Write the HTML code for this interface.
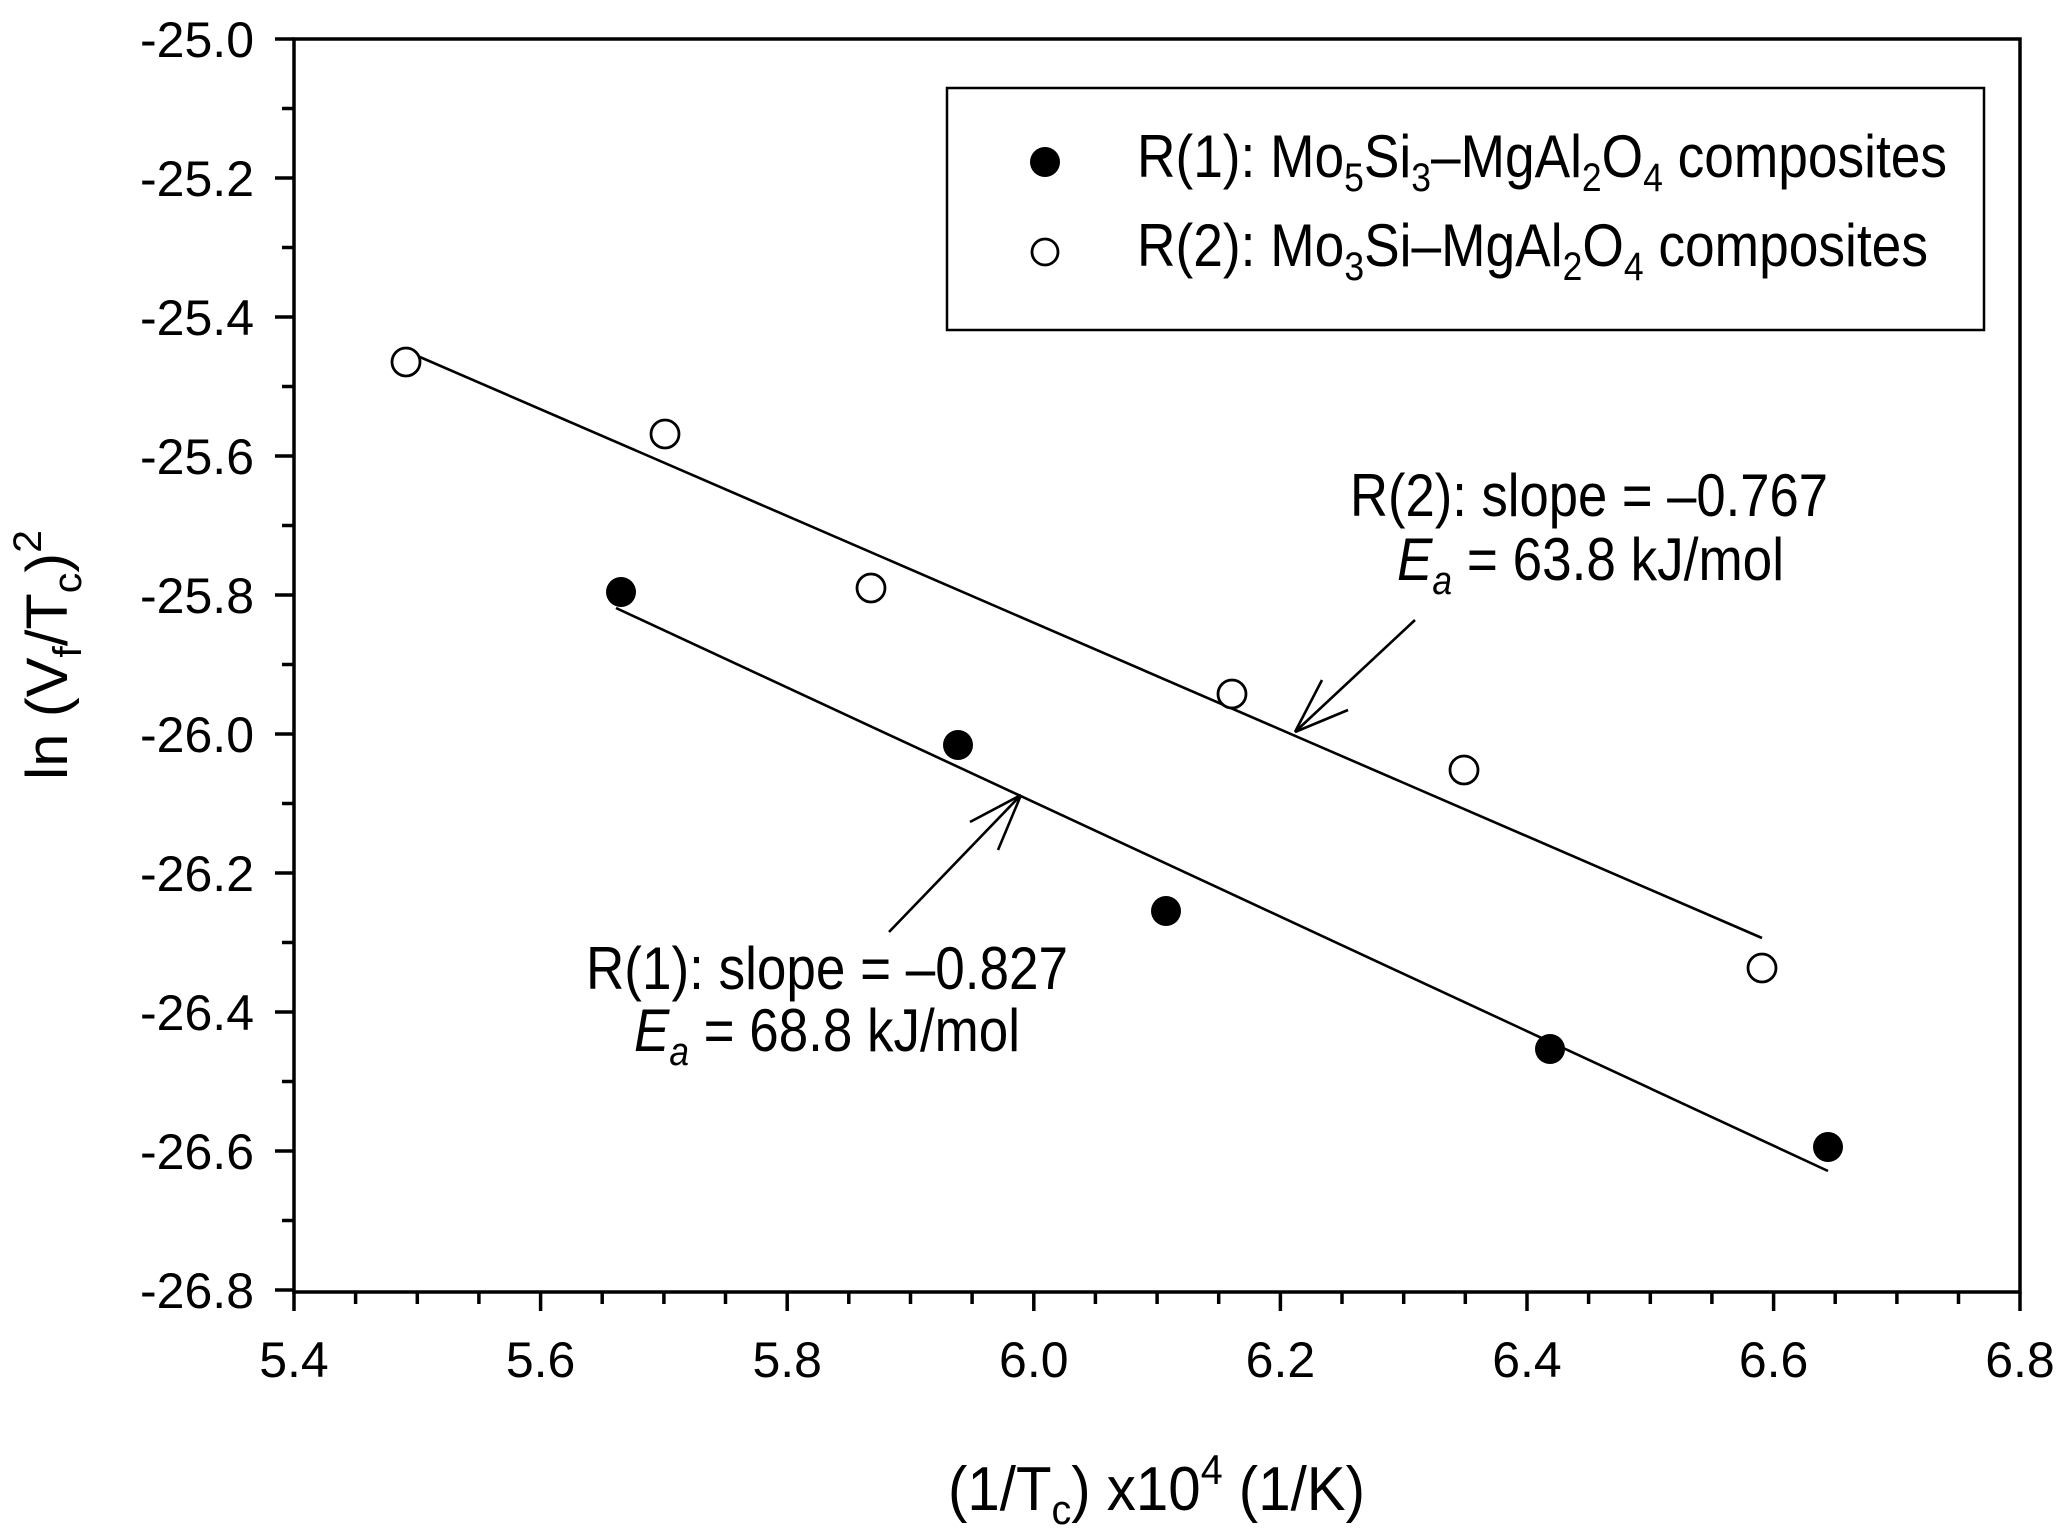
<!DOCTYPE html>
<html><head><meta charset="utf-8"><style>html,body{margin:0;padding:0;background:#fff}svg{display:block}</style></head>
<body>
<svg width="2068" height="1528" viewBox="0 0 2068 1528" xmlns="http://www.w3.org/2000/svg" font-family="Liberation Sans, Arial, sans-serif" fill="#000">
<rect width="2068" height="1528" fill="#fff"/>
<rect x="294" y="39" width="1726" height="1253" fill="none" stroke="#000" stroke-width="3.5"/>
<g stroke="#000" stroke-width="3.5">
<line x1="275" y1="39" x2="294" y2="39"/><line x1="282" y1="108.5" x2="294" y2="108.5"/>
<line x1="275" y1="178" x2="294" y2="178"/><line x1="282" y1="247.5" x2="294" y2="247.5"/>
<line x1="275" y1="317" x2="294" y2="317"/><line x1="282" y1="386.5" x2="294" y2="386.5"/>
<line x1="275" y1="456" x2="294" y2="456"/><line x1="282" y1="525.5" x2="294" y2="525.5"/>
<line x1="275" y1="595" x2="294" y2="595"/><line x1="282" y1="664.5" x2="294" y2="664.5"/>
<line x1="275" y1="734" x2="294" y2="734"/><line x1="282" y1="803.5" x2="294" y2="803.5"/>
<line x1="275" y1="873" x2="294" y2="873"/><line x1="282" y1="942.5" x2="294" y2="942.5"/>
<line x1="275" y1="1012" x2="294" y2="1012"/><line x1="282" y1="1081.5" x2="294" y2="1081.5"/>
<line x1="275" y1="1151" x2="294" y2="1151"/><line x1="282" y1="1220.5" x2="294" y2="1220.5"/>
<line x1="275" y1="1290" x2="294" y2="1290"/>
</g>
<g font-size="50" text-anchor="end">
<text x="254" y="57">-25.0</text><text x="254" y="196">-25.2</text><text x="254" y="335">-25.4</text>
<text x="254" y="474">-25.6</text><text x="254" y="613">-25.8</text><text x="254" y="752">-26.0</text>
<text x="254" y="891">-26.2</text><text x="254" y="1030">-26.4</text><text x="254" y="1169">-26.6</text>
<text x="254" y="1308">-26.8</text>
</g>
<g font-size="50" text-anchor="middle">
<text x="294" y="1377">5.4</text><text x="540.6" y="1377">5.6</text><text x="787.2" y="1377">5.8</text>
<text x="1033.8" y="1377">6.0</text><text x="1280.4" y="1377">6.2</text><text x="1527" y="1377">6.4</text>
<text x="1773.6" y="1377">6.6</text><text x="2020" y="1377">6.8</text>
</g>
<text x="948" y="1510" font-size="62" textLength="417" lengthAdjust="spacingAndGlyphs">(1/T<tspan font-size="42" dy="14">c</tspan><tspan dy="-14">) x10</tspan><tspan font-size="42" dy="-26">4</tspan><tspan dy="26"> (1/K)</tspan></text>
<text transform="translate(67,780) rotate(-90)" font-size="58" textLength="250" lengthAdjust="spacingAndGlyphs">ln (V<tspan font-size="40" dy="14">f</tspan><tspan dy="-14">/T</tspan><tspan font-size="40" dy="14">c</tspan><tspan dy="-14">)</tspan><tspan font-size="40" dy="-26">2</tspan></text>
<g stroke="#000" stroke-width="2.6">
<line x1="406" y1="351" x2="1762" y2="938"/>
<line x1="616" y1="608" x2="1828" y2="1171"/>
<line x1="1415" y1="620" x2="1295" y2="732"/>
<line x1="1295" y1="732" x2="1322" y2="680"/>
<line x1="1295" y1="732" x2="1348" y2="710"/>
<line x1="889" y1="932" x2="1021" y2="795"/>
<line x1="1021" y1="795" x2="970" y2="822"/>
<line x1="1021" y1="795" x2="998" y2="850"/>
</g>
<g fill="#fff" stroke="#000" stroke-width="2.8">
<circle cx="406" cy="362" r="14"/><circle cx="665" cy="434" r="14"/><circle cx="871" cy="588" r="14"/>
<circle cx="1232" cy="694" r="14"/><circle cx="1464" cy="770" r="14"/><circle cx="1762" cy="968" r="14"/>
</g>
<g fill="#000">
<circle cx="621" cy="592" r="15"/><circle cx="958" cy="745" r="15"/><circle cx="1166" cy="911" r="15"/>
<circle cx="1550" cy="1049" r="15"/><circle cx="1828" cy="1147" r="15"/>
</g>
<text x="1350" y="516" font-size="60" textLength="478" lengthAdjust="spacingAndGlyphs">R(2): slope = –0.767</text>
<text x="1397" y="580" font-size="60" textLength="387" lengthAdjust="spacingAndGlyphs"><tspan font-style="italic">E</tspan><tspan font-style="italic" font-size="40" dy="14">a</tspan><tspan dy="-14"> = 63.8 kJ/mol</tspan></text>
<text x="586" y="989" font-size="60" textLength="482" lengthAdjust="spacingAndGlyphs">R(1): slope = –0.827</text>
<text x="634" y="1051" font-size="60" textLength="386" lengthAdjust="spacingAndGlyphs"><tspan font-style="italic">E</tspan><tspan font-style="italic" font-size="40" dy="14">a</tspan><tspan dy="-14"> = 68.8 kJ/mol</tspan></text>
<rect x="947" y="88" width="1037" height="242" fill="#fff" stroke="#000" stroke-width="2.5"/>
<circle cx="1045" cy="162" r="15" fill="#000"/>
<circle cx="1045" cy="252" r="13" fill="#fff" stroke="#000" stroke-width="2.8"/>
<text x="1137" y="177" font-size="60" textLength="810" lengthAdjust="spacingAndGlyphs">R(1): Mo<tspan font-size="40" dy="14">5</tspan><tspan dy="-14">Si</tspan><tspan font-size="40" dy="14">3</tspan><tspan dy="-14">–MgAl</tspan><tspan font-size="40" dy="14">2</tspan><tspan dy="-14">O</tspan><tspan font-size="40" dy="14">4</tspan><tspan dy="-14"> composites</tspan></text>
<text x="1137" y="266" font-size="60" textLength="791" lengthAdjust="spacingAndGlyphs">R(2): Mo<tspan font-size="40" dy="14">3</tspan><tspan dy="-14">Si–MgAl</tspan><tspan font-size="40" dy="14">2</tspan><tspan dy="-14">O</tspan><tspan font-size="40" dy="14">4</tspan><tspan dy="-14"> composites</tspan></text>
<g stroke="#000" stroke-width="3.5">
<line x1="294" y1="1292" x2="294" y2="1311"/><line x1="355.6" y1="1292" x2="355.6" y2="1304"/><line x1="417.3" y1="1292" x2="417.3" y2="1304"/><line x1="478.9" y1="1292" x2="478.9" y2="1304"/>
<line x1="540.6" y1="1292" x2="540.6" y2="1311"/><line x1="602.2" y1="1292" x2="602.2" y2="1304"/><line x1="663.9" y1="1292" x2="663.9" y2="1304"/><line x1="725.5" y1="1292" x2="725.5" y2="1304"/>
<line x1="787.2" y1="1292" x2="787.2" y2="1311"/><line x1="848.8" y1="1292" x2="848.8" y2="1304"/><line x1="910.5" y1="1292" x2="910.5" y2="1304"/><line x1="972.1" y1="1292" x2="972.1" y2="1304"/>
<line x1="1033.8" y1="1292" x2="1033.8" y2="1311"/><line x1="1095.4" y1="1292" x2="1095.4" y2="1304"/><line x1="1157.1" y1="1292" x2="1157.1" y2="1304"/><line x1="1218.7" y1="1292" x2="1218.7" y2="1304"/>
<line x1="1280.4" y1="1292" x2="1280.4" y2="1311"/><line x1="1342" y1="1292" x2="1342" y2="1304"/><line x1="1403.7" y1="1292" x2="1403.7" y2="1304"/><line x1="1465.3" y1="1292" x2="1465.3" y2="1304"/>
<line x1="1527" y1="1292" x2="1527" y2="1311"/><line x1="1588.6" y1="1292" x2="1588.6" y2="1304"/><line x1="1650.3" y1="1292" x2="1650.3" y2="1304"/><line x1="1711.9" y1="1292" x2="1711.9" y2="1304"/>
<line x1="1773.6" y1="1292" x2="1773.6" y2="1311"/><line x1="1835.2" y1="1292" x2="1835.2" y2="1304"/><line x1="1896.9" y1="1292" x2="1896.9" y2="1304"/><line x1="1958.5" y1="1292" x2="1958.5" y2="1304"/>
<line x1="2020" y1="1292" x2="2020" y2="1311"/>
</g>
</svg>
</body></html>
